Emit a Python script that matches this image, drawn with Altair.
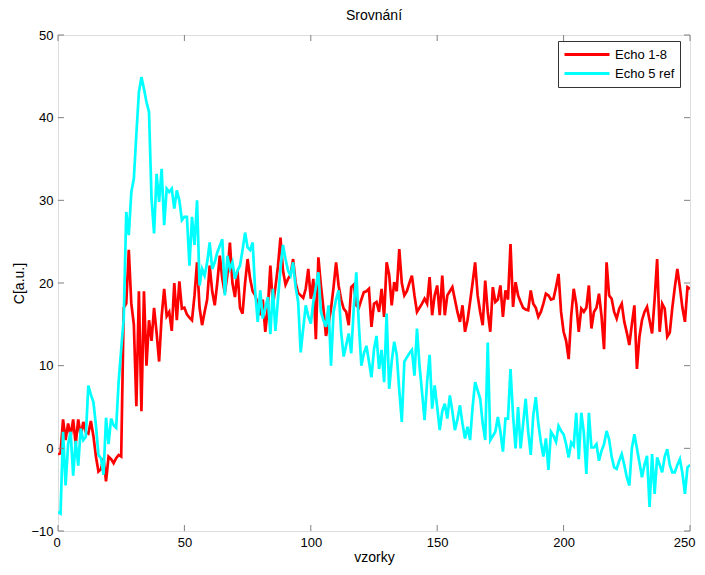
import altair as alt
import pandas as pd

series_names = ["Echo 1-8", "Echo 5 ref"]
series_colors = ["#ff0000", "#00ffff"]

echo_1_8 = [
    -0.7, -0.6, 3.5, 1.0, 3.0, 1.5, 3.5, 0.5, 3.5, 1.5,
    3.2, 2.0, 1.8, 3.3, 1.5, -1.0, -2.8, -2.5, -1.2, -4.0,
    -1.0, -1.3, -1.8, -1.2, -0.8, -1.0, 17.0, 17.5, 24.0, 17.5,
    15.0, 5.1, 19.0, 4.5, 19.0, 10.0, 15.5, 13.0, 17.0, 14.0,
    10.5, 16.0, 19.3, 16.0, 16.5, 14.2, 20.0, 15.5, 20.2, 16.9,
    17.0, 16.2, 15.8, 15.5, 18.5, 22.5, 17.0, 14.9, 16.5, 18.0,
    22.1, 19.0, 17.3, 20.0, 23.3, 20.5, 18.8, 21.0, 24.9, 20.0,
    18.3, 21.5, 17.0, 16.3, 20.0, 22.9, 20.5, 19.0, 18.5, 17.5,
    16.1, 18.0, 14.1, 17.0, 22.1, 17.3, 19.5, 22.0, 25.5, 21.5,
    19.8, 20.5, 21.0, 22.9, 20.0, 18.8, 18.5, 18.2, 19.3, 21.7,
    18.1, 20.5, 13.2, 23.1, 19.7, 16.9, 13.6, 15.0, 16.9, 19.5,
    22.5, 19.7, 18.0, 16.9, 16.5, 14.9, 19.5, 19.8, 17.3, 17.0,
    18.0, 18.9, 19.0, 19.3, 14.7, 17.5, 17.7, 16.5, 19.3, 15.9,
    22.5, 21.0, 17.3, 20.1, 19.0, 24.1, 20.0, 18.5, 19.0, 20.0,
    20.9, 18.5, 16.5, 17.0, 17.5, 18.1, 17.5, 20.7, 16.1, 18.5,
    19.7, 16.1, 20.9, 16.1, 18.5, 19.0, 19.5, 18.0, 16.5, 15.3,
    17.3, 14.1, 15.5, 17.7, 20.0, 22.5, 18.5, 16.5, 14.9, 20.3,
    16.5, 14.1, 19.5, 17.7, 18.0, 19.7, 15.9, 19.1, 18.0, 24.7,
    17.1, 20.1, 18.5, 17.7, 17.0, 16.8, 16.7, 19.1, 17.5, 17.0,
    15.9, 16.5, 17.5, 18.7, 18.5, 18.0, 18.1, 19.5, 21.1, 16.5,
    14.1, 13.0, 10.8, 16.0, 19.3, 17.5, 14.1, 16.9, 16.5, 17.0,
    19.7, 14.5, 16.5, 17.0, 18.7, 16.0, 12.0, 22.5, 18.5, 18.1,
    16.5, 15.7, 16.9, 17.5, 15.3, 14.0, 12.5, 15.0, 17.3, 9.6,
    13.5, 15.5, 16.5, 17.1, 15.5, 13.9, 18.0, 22.9, 14.1, 17.5,
    16.9, 13.5, 14.0, 17.0, 19.5, 21.7, 19.5, 17.0, 15.3, 19.5,
    19.3,
]

echo_5_ref = [
    -7.7, -7.9, 2.0, -4.5, 0.5, 2.0, -3.3, 0.9, -2.1, 2.4,
    1.0, 1.4, 7.6, 6.5, 5.6, 2.8, -0.8, -1.2, -3.2, 3.7,
    0.5, 3.6, 2.8, 2.5, 8.1, 12.0, 15.7, 28.6, 25.8, 31.0,
    32.6, 38.0, 43.1, 44.9, 43.5, 41.9, 40.7, 30.2, 26.0, 33.2,
    29.8, 33.8, 27.0, 31.4, 31.0, 31.4, 29.0, 31.2, 30.0, 27.6,
    28.0, 28.0, 22.1, 28.0, 24.6, 30.0, 19.7, 21.7, 20.9, 22.5,
    24.9, 21.7, 22.5, 23.7, 24.5, 25.3, 18.5, 23.3, 21.7, 22.5,
    20.5, 21.5, 22.1, 24.0, 26.1, 24.3, 24.0, 24.9, 19.0, 15.3,
    19.1, 15.7, 17.0, 18.3, 13.8, 19.3, 14.2, 18.0, 21.7, 24.6,
    22.9, 21.5, 20.9, 22.5, 19.5, 17.7, 11.6, 14.5, 17.3, 16.0,
    15.1, 17.7, 19.5, 21.3, 16.5, 15.5, 14.7, 17.3, 10.0, 16.5,
    18.0, 19.1, 14.1, 11.1, 12.5, 13.9, 11.5, 17.0, 21.3, 15.0,
    10.0, 11.5, 12.4, 10.5, 8.6, 12.0, 13.6, 9.6, 11.9, 8.0,
    16.3, 7.2, 10.5, 12.9, 11.3, 7.0, 3.2, 10.5, 11.0, 11.5,
    11.9, 8.8, 14.5, 10.0, 6.8, 3.4, 8.0, 11.3, 4.8, 7.6,
    5.0, 2.2, 4.5, 5.4, 3.6, 6.4, 4.5, 2.2, 3.5, 5.2,
    3.0, 1.2, 2.6, 1.0, 5.0, 8.0, 7.0, 6.0, 3.0, 1.0,
    12.8, 1.0, 1.5, 2.0, 3.8, 2.0, -0.4, 3.6, 3.6, 9.6,
    4.0, 0.0, 5.0, 0.0, 3.0, 6.0, 2.0, -0.8, 4.0, 6.2,
    3.0, 0.8, -1.0, 1.2, -2.6, 2.0, 1.5, 0.8, 2.7, 2.1,
    1.7, 0.5, -1.1, 0.7, 0.3, 4.3, -1.3, 4.3, 1.9, -3.1,
    4.3, 0.1, 0.1, 0.5, -1.5, -0.3, 0.5, 2.1, 1.1, -1.0,
    -2.3, -2.5, -1.5, -0.7, -2.0, -3.5, -4.5, 0.0, 1.7, 0.0,
    -1.7, -3.5, -2.0, -0.9, -7.1, -0.7, -5.5, -1.1, -2.0, -2.9,
    -1.0, -0.1, -2.0, -2.9, -2.9, -2.0, -1.3, -3.0, -5.5, -2.3,
    -2.0,
]

samples = list(range(len(echo_1_8)))
x_ticks = [0, 50, 100, 150, 200, 250]
y_ticks = [-10, 0, 10, 20, 30, 40, 50]

W, H = 632, 496
AX = "#808080"
FONT = "Liberation Sans"

rows = []
for name, vals in zip(series_names, [echo_1_8, echo_5_ref]):
    for s, v in zip(samples, vals):
        rows.append({"x": s, "y": v, "series": name})
df = pd.DataFrame(rows)

xscale = alt.Scale(domain=[0, 250], nice=False, zero=False)
yscale = alt.Scale(domain=[-10, 50], nice=False, zero=False)

x_axis = alt.Axis(values=x_ticks, ticks=False, grid=False, domain=False,
                  labelPadding=5, labelFontSize=13, labelFont=FONT, labelColor="black",
                  titleFontSize=14, titleFont=FONT, titleFontWeight="normal",
                  titleColor="black", titlePadding=1, labelFlush=True,
                  labelFlushOffset=5)
y_axis = alt.Axis(values=y_ticks, ticks=False, grid=False, domain=False,
                  labelPadding=5, labelFontSize=13, labelFont=FONT, labelColor="black",
                  titleFontSize=14, titleFont=FONT, titleFontWeight="normal",
                  titleColor="black", titlePadding=4, labelFlush=False)

X = alt.X("x:Q", scale=xscale, title="vzorky", axis=x_axis)
Y = alt.Y("y:Q", scale=yscale, title="C[a.u.]", axis=y_axis)

lines = alt.Chart(df).mark_line(strokeWidth=2.7, strokeJoin="miter", clip=True).encode(
    x=X,
    y=Y,
    color=alt.Color("series:N", scale=alt.Scale(domain=series_names, range=series_colors),
                    legend=alt.Legend(title=None, orient="none", legendX=500, legendY=6,
                                      symbolType="stroke", symbolSize=2025,
                                      symbolStrokeWidth=3, labelFontSize=13,
                                      labelFont=FONT, labelColor="black",
                                      fillColor="white", strokeColor="#333333",
                                      padding=5, clipHeight=17, rowPadding=2,
                                      labelOffset=4)),
    order=alt.Order("x:Q"),
)

xt = pd.DataFrame({"x": x_ticks})
yt = pd.DataFrame({"y": y_ticks})
tick_len = 6

xb = alt.Chart(xt).mark_rule(color=AX, strokeWidth=1).encode(
    x=X, y=alt.value(H), y2=alt.value(H - tick_len))
xtop = alt.Chart(xt).mark_rule(color=AX, strokeWidth=1).encode(
    x=X, y=alt.value(0), y2=alt.value(tick_len))
yl = alt.Chart(yt).mark_rule(color=AX, strokeWidth=1).encode(
    y=Y, x=alt.value(0), x2=alt.value(tick_len))
yr = alt.Chart(yt).mark_rule(color=AX, strokeWidth=1).encode(
    y=Y, x=alt.value(W), x2=alt.value(W - tick_len))

chart = alt.layer(lines, xb, xtop, yl, yr).properties(
    width=W, height=H,
    title=alt.TitleParams("Srovnání", fontSize=14, font=FONT, fontWeight="normal",
                          color="black", offset=6),
    autosize=alt.AutoSizeParams(type="none"),
    padding={"left": 50, "top": 27, "right": 7, "bottom": 36},
).configure_view(stroke=AX, strokeWidth=1).configure(background="white")

chart.save("out.html", embed_options={"renderer": "svg", "actions": False})
